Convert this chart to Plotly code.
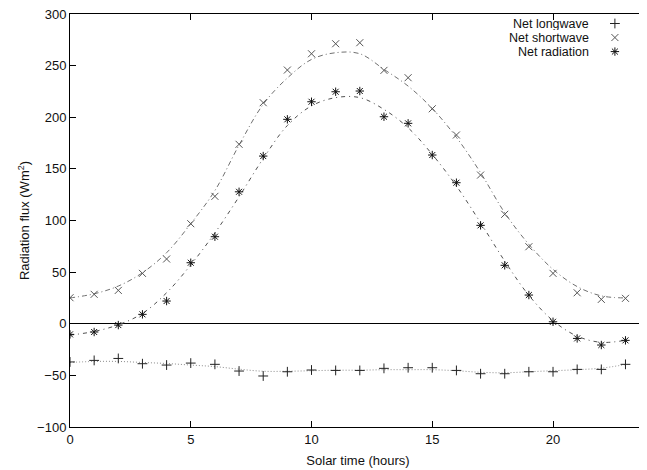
import plotly.graph_objects as go

# ---- data ----
hours = list(range(24))

net_longwave = [-37, -35.5, -33.6, -38.7, -40, -38.1, -39.3, -45.8, -50.6, -46.5, -44.8, -45.2,
                -45.2, -43.2, -42.6, -42.6, -45.2, -48.4, -48.4, -46.5, -46.5, -44.2, -44.2, -39.3]
net_shortwave = [25.2, 28.5, 32.3, 48.8, 62.7, 96.9, 123.4, 173.8, 214.1, 245.7, 261.5, 271.2,
                 272.2, 245.4, 238.3, 208.2, 182.8, 144.0, 106.0, 74.6, 48.8, 30.0, 23.6, 24.6]
net_radiation = [-10.3, -8.0, -1.3, 9.1, 22.0, 59.1, 84.3, 127.8, 162.4, 198.0, 215.0, 224.7,
                 225.4, 200.5, 194.1, 163.4, 136.6, 95.3, 56.6, 27.8, 1.9, -14.2, -20.6, -16.1]

# fitted curves (at each hour)
fit_longwave = [-37.5, -36.5, -36.5, -37.5, -38.5, -40, -41.5, -44, -46, -46, -45.5, -45,
                -45, -44.5, -44.5, -44.5, -45.5, -47, -47.5, -46.5, -45.5, -44.5, -43, -39.5]
fit_shortwave = [25, 29, 36.5, 49.4, 68.8, 96.9, 129, 173, 212.5, 238, 256, 262.5,
                 261.5, 246.4, 230.2, 208.5, 180.5, 146.3, 107.5, 76.9, 52.7, 36, 27, 25]
fit_radiation = [-11, -7.5, -1, 10, 30, 57, 88, 123, 160, 192, 211, 219,
                 219, 207.6, 189.8, 164, 133.4, 97.8, 60.7, 27.5, 3, -12, -18, -16]

series_names = ["Net longwave", "Net shortwave", "Net radiation"]
x_ticks = [0, 5, 10, 15, 20]
y_ticks = [-100, -50, 0, 50, 100, 150, 200, 250, 300]

FONT = "Liberation Sans, Arial, sans-serif"

fig = go.Figure()

# fitted curves
fig.add_trace(go.Scatter(x=hours, y=fit_longwave, mode="lines", line_shape="spline",
                         line=dict(color="#8a8a8a", width=1, dash="1px,2px"),
                         showlegend=False, hoverinfo="skip"))
fig.add_trace(go.Scatter(x=hours, y=fit_shortwave, mode="lines", line_shape="spline",
                         line=dict(color="#707070", width=1, dash="5px,3px,1px,3px"),
                         showlegend=False, hoverinfo="skip"))
fig.add_trace(go.Scatter(x=hours, y=fit_radiation, mode="lines", line_shape="spline",
                         line=dict(color="#505050", width=1, dash="4px,4px,1px,4px"),
                         showlegend=False, hoverinfo="skip"))

# data points
marker_styles = [
    dict(symbol="cross-thin-open", size=7, color="#222222", line=dict(width=1, color="#222222")),
    dict(symbol="x-thin-open", size=7, color="#555555", line=dict(width=1, color="#555555")),
    dict(symbol="asterisk-open", size=7, color="#111111", line=dict(width=1, color="#111111")),
]
for name, vals, ms in zip(series_names, [net_longwave, net_shortwave, net_radiation], marker_styles):
    fig.add_trace(go.Scatter(x=hours, y=vals, mode="markers", name=name,
                             marker=ms, showlegend=False))

# gnuplot-style legend: text right-aligned, symbol to its right
legend_rows = [0.977, 0.943, 0.909]
for name, ms, yy in zip(series_names, marker_styles, legend_rows):
    fig.add_trace(go.Scatter(x=[0.946], y=[yy], mode="markers", marker=ms,
                             xaxis="x2", yaxis="y2", showlegend=False, hoverinfo="skip"))
    fig.add_annotation(x=0.903, y=yy, xref="paper", yref="paper", text=name,
                       showarrow=False, xanchor="right", yanchor="middle",
                       height=13, valign="middle", borderpad=0,
                       font=dict(family=FONT, size=12.5, color="#111111"))

axis_common = dict(showline=True, linecolor="black", linewidth=1, mirror="ticks",
                   ticks="inside", ticklen=6, tickcolor="black", showgrid=False,
                   automargin=False, ticklabeloverflow="allow",
                   tickfont=dict(family=FONT, size=13, color="#111111"))

# the page body adds an 8px offset, so the figure is 8px smaller than the window
fig.update_layout(
    width=639, height=462,
    margin=dict(l=62, r=1, t=6, b=43),
    paper_bgcolor="white", plot_bgcolor="white",
    showlegend=False,
    xaxis=dict(range=[0, 23.85], tickvals=x_ticks, zeroline=False,
               title=dict(text="Solar time (hours)", standoff=10,
                          font=dict(family=FONT, size=13, color="#111111")),
               **axis_common),
    yaxis=dict(range=[-100, 300], tickvals=y_ticks, zeroline=True,
               zerolinecolor="black", zerolinewidth=1,
               title=dict(text="Radiation flux (Wm<sup>2</sup>)", standoff=4,
                          font=dict(family=FONT, size=13, color="#111111")),
               **axis_common),
    xaxis2=dict(overlaying="x", range=[0, 1], visible=False, fixedrange=True),
    yaxis2=dict(overlaying="y", range=[0, 1], visible=False, fixedrange=True),
)

fig.write_html("out.html")
